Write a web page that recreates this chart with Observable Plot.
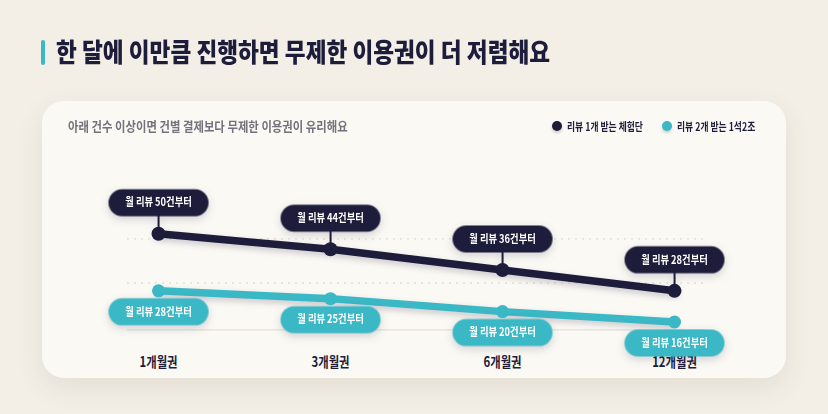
<!DOCTYPE html>
<html><head><meta charset="utf-8">
<script src="https://cdn.jsdelivr.net/npm/d3@7"></script>
<script src="https://cdn.jsdelivr.net/npm/@observablehq/plot@0.6"></script>
<style>
html,body{margin:0;padding:0;}
body{width:828px;height:414px;background:#f3efe6;position:relative;overflow:hidden;font-family:"Noto Sans CJK KR","Noto Sans",sans-serif;}
.accent{position:absolute;left:41px;top:40px;width:4px;height:25px;border-radius:2px;background:#3bb8c5;}
.title{position:absolute;left:56px;top:33px;font-size:26px;line-height:36px;font-weight:900;color:#1d1c3b;white-space:nowrap;transform:scaleX(0.87);transform-origin:0 0;}
.card{position:absolute;left:42px;top:101px;width:744px;height:277px;border-radius:22px;background:#fbf9f4;box-shadow:0 10px 28px rgba(90,70,40,0.09);}
.subtitle{position:absolute;left:26px;top:15px;font-size:13px;line-height:20px;font-weight:700;color:#74717c;white-space:nowrap;transform:scaleX(0.875);transform-origin:0 0;}
.lg-dot{position:absolute;width:10px;height:10px;border-radius:50%;box-shadow:0 2px 3px rgba(0,0,0,0.18);}
.lg-text{position:absolute;font-size:11px;line-height:16px;font-weight:700;color:#1d1c3b;white-space:nowrap;transform:scaleX(0.8);transform-origin:0 0;}
#chart{position:absolute;left:0;top:49px;}
#chart svg{overflow:visible;}
g[aria-description="shadow-line"]{filter:drop-shadow(0 3px 3px rgba(30,28,62,0.22));}
g[aria-description="bubble"]{filter:drop-shadow(0 3px 4px rgba(30,28,62,0.18));}
g[aria-label^="x-axis"] text{font-size:14px;font-weight:700;fill:#1d1c3b;}
</style>
</head><body>
<div class="accent"></div>
<div class="title">한 달에 이만큼 진행하면 무제한 이용권이 더 저렴해요</div>
<div class="card">
  <div class="subtitle">아래 건수 이상이면 건별 결제보다 무제한 이용권이 유리해요</div>
  <div class="lg-dot" style="left:510px;top:20px;background:#1d1c3b"></div>
  <div class="lg-text" id="lg1" style="left:525px;top:17px"></div>
  <div class="lg-dot" style="left:620px;top:20px;background:#3bb8c5"></div>
  <div class="lg-text" id="lg2" style="left:635px;top:17px"></div>
  <div id="chart"></div>
</div>
<script>
const plans = ["1개월권", "3개월권", "6개월권", "12개월권"];
const singleReview = [50, 44, 36, 28];
const doubleReview = [28, 25, 20, 16];
const seriesNames = ["리뷰 1개 받는 체험단", "리뷰 2개 받는 1석2조"];
const gridValues = [31, 48];
const baseValue = 13;

const DARK = "#1d1c3b", TEAL = "#3bb8c5";
document.getElementById("lg1").textContent = seriesNames[0];
document.getElementById("lg2").textContent = seriesNames[1];

const rowsA = plans.map((p, i) => ({plan: p, value: singleReview[i]}));
const rowsB = plans.map((p, i) => ({plan: p, value: doubleReview[i]}));

function pill(cy, connector) {
  const w = 100, h = 27, r = h / 2;
  return {draw(ctx) {
    const x0 = -w / 2, x1 = w / 2, y0 = cy - r, y1 = cy + r;
    ctx.moveTo(x0 + r, y0);
    ctx.lineTo(x1 - r, y0);
    ctx.arc(x1 - r, cy, r, -Math.PI / 2, Math.PI / 2);
    ctx.lineTo(x0 + r, y1);
    ctx.arc(x0 + r, cy, r, Math.PI / 2, 3 * Math.PI / 2);
    ctx.closePath();
    if (connector) {
      ctx.moveTo(-1, y1); ctx.lineTo(1, y1); ctx.lineTo(1, 0); ctx.lineTo(-1, 0); ctx.closePath();
    }
  }};
}
const label = d => `월 리뷰 ${d.value}건부터`;

const chart = Plot.plot({
  width: 744, height: 226,
  marginTop: 78, marginBottom: 46.7, marginLeft: 85, marginRight: 81,
  x: {type: "point", domain: plans, padding: 0.1734, label: null, tickSize: 0, tickPadding: 27},
  y: {domain: [13, 52], axis: null},
  style: {background: "transparent", fontFamily: '"Noto Sans CJK KR", sans-serif', overflow: "visible"},
  marks: [
    Plot.ruleY(gridValues, {stroke: "#d8d4cb", strokeWidth: 1, strokeDasharray: "2,5"}),
    Plot.ruleY([baseValue], {stroke: "#e4e0d7", strokeWidth: 1.2}),
    Plot.line(rowsB, {x: "plan", y: "value", stroke: TEAL, strokeWidth: 7.5, ariaDescription: "shadow-line"}),
    Plot.line(rowsA, {x: "plan", y: "value", stroke: DARK, strokeWidth: 7.5, ariaDescription: "shadow-line"}),
    Plot.dot(rowsA, {x: "plan", y: "value", symbol: pill(-31, true), fill: DARK, ariaDescription: "bubble"}),
    Plot.dot(rowsB, {x: "plan", y: "value", symbol: pill(21, false), fill: TEAL, ariaDescription: "bubble"}),
    Plot.dot(rowsA, {x: "plan", y: "value", r: 7, fill: DARK}),
    Plot.dot(rowsB, {x: "plan", y: "value", r: 6.5, fill: TEAL}),
    Plot.text(rowsA, {x: "plan", y: "value", text: label, dy: -31, fill: "white", fontSize: 11.5, fontWeight: 700, ariaDescription: "label"}),
    Plot.text(rowsB, {x: "plan", y: "value", text: label, dy: 21, fill: "white", fontSize: 11.5, fontWeight: 700, ariaDescription: "label"})
  ]
});
document.getElementById("chart").appendChild(chart);

function squash() {
  const texts = chart.querySelectorAll('g[aria-description="label"] text, g[aria-label^="x-axis"] text');
  texts.forEach(t => {
    t.removeAttribute("textLength");
    const L = t.getComputedTextLength();
    if (L > 0) {
      t.setAttribute("textLength", (L * 0.81).toFixed(1));
      t.setAttribute("lengthAdjust", "spacingAndGlyphs");
    }
  });
}
squash();
if (document.fonts && document.fonts.ready) document.fonts.ready.then(squash);
</script>
</body></html>
